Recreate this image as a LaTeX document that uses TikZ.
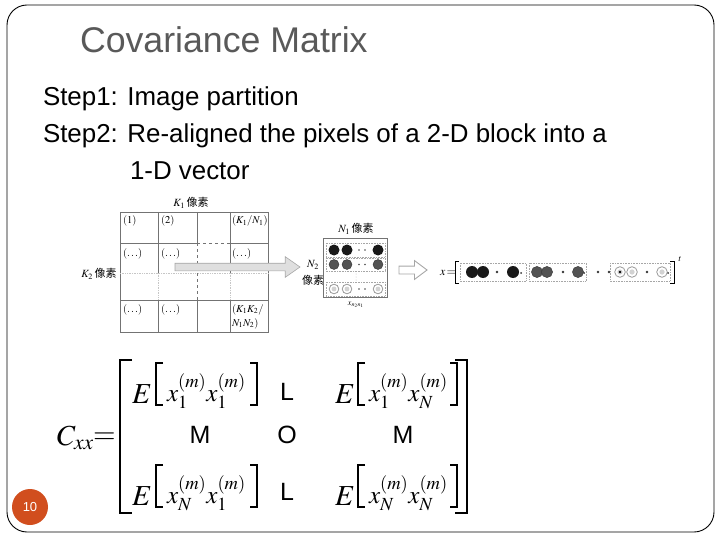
\documentclass[tikz,border=0pt]{standalone}
\usepackage{mathptmx}
\usepackage[no-math]{fontspec}
\newfontfamily\arial{Liberation Sans}
\newfontfamily\cjk{Noto Sans CJK TC}
\usetikzlibrary{shapes.arrows}
\definecolor{titlegray}{HTML}{595959}
\definecolor{numorange}{RGB}{209,78,30}
\definecolor{gridgray}{gray}{0.45}
\tikzset{
  steptext/.style={anchor=base west, font=\arial\fontsize{25.9}{30}\selectfont},
  celltext/.style={anchor=base west, font=\fontsize{10.5}{12}\selectfont},
  smalltext/.style={font=\fontsize{11}{13}\selectfont},
  mathbig/.style={anchor=base west, font=\fontsize{29}{34}\selectfont},
  mathent/.style={anchor=base west, font=\fontsize{25}{30}\selectfont},
  sym/.style={anchor=base, font=\arial\fontsize{25}{30}\selectfont},
  brk/.style={line width=1.2pt},
  bigbrk/.style={line width=1.5pt},
  gline/.style={draw=gridgray, line width=0.7pt},
  rowbox/.style={draw=gray!70, densely dotted, line width=0.6pt},
  blackdot/.style={fill=black!90},
  graydot/.style={fill=gray!65!black, draw=gray!40!black, line width=0.4pt},
  lightdot/.style={fill=white, draw=gray!80, line width=0.8pt},
  tinydot/.style={fill=gray!60!black},
}
\begin{document}
\begin{tikzpicture}[x=1pt,y=-1pt, every node/.style={inner sep=0pt, outer sep=0pt}]
\useasboundingbox (0,0) rectangle (720,540);
% slide frame
\draw[line width=0.9pt, rounded corners=20pt] (7,5) rectangle (714,532);
% title and steps
\node[anchor=base west, text=titlegray, font=\arial\fontsize{35.7}{40}\selectfont] (title) at (80,53) {Covariance Matrix};
\node[steptext] (s1) at (43,106) {Step1: Image partition};
\node[steptext] (s2) at (43,143) {Step2: Re-aligned the pixels of a 2-D block into a};
\node[steptext] (s3) at (130,180) {1-D vector};

% ---- image partition grid ----
\draw[gline] (120,212) rectangle (268,332);
\draw[gline] (120,243) -- (197,243);
\draw[gline, dashed] (197,243) -- (230,243);
\draw[gline] (230,243) -- (268,243);
\draw[draw=gray!45, densely dotted, line width=0.7pt] (120,273) -- (268,273);
\draw[gline] (120,300) -- (268,300);
\draw[gline] (158,212) -- (158,273);
\draw[draw=gray!45, densely dotted, line width=0.7pt] (158,273) -- (158,300);
\draw[gline] (158,300) -- (158,332);
\draw[gline] (197,212) -- (197,243);
\draw[gline, dashed] (197,243) -- (197,300);
\draw[gline] (197,300) -- (197,332);
\draw[gline] (230,212) -- (230,273);
\draw[draw=gray!45, densely dotted, line width=0.7pt] (230,273) -- (230,300);
\draw[gline] (230,300) -- (230,332);
\node[celltext] (c11) at (123,224) {$(1)$};
\node[celltext] (c12) at (161,224) {$(2)$};
\node[celltext] (c14) at (232,224) {$(K_1/N_1)$};
\node[celltext] (c21) at (123,256) {$(\ldots)$};
\node[celltext] (c22) at (161,256) {$(\ldots)$};
\node[celltext] (c24) at (232,256) {$(\ldots)$};
\node[celltext] (c41) at (123,312) {$(\ldots)$};
\node[celltext] (c42) at (161,312) {$(\ldots)$};
\node[celltext] (c44) at (232,312) {$(K_1K_2/$};
\node[celltext] (c44b) at (232,326) {$N_1N_2)$};
\node[smalltext] (k1) at (191,203) {$K_1$\,\cjk 像素};
\node[smalltext] (k2) at (99,274) {$K_2$\,\cjk 像素};

% hatched arrow
\node[single arrow, draw=gray!70, fill=gray!25, line width=0.6pt, anchor=tail,
      inner xsep=0pt, inner ysep=3.5pt,
      minimum height=125pt, single arrow head extend=6.5pt,
      single arrow tip angle=70, single arrow head indent=0pt] (harrow) at (175,267) {};
\node[smalltext] (n2) at (313,265) {$N_2$};
\node[smalltext] (n2px) at (313,280) {\cjk 像素};

% ---- N1 x N2 block ----
\node[smalltext] (n1) at (356,229) {$N_1$\,\cjk 像素};
\draw[gline] (323,238) rectangle (387,297);
\draw[rowbox] (326,243) rectangle (385,257);
\draw[rowbox] (326,258) rectangle (385,271);
\draw[rowbox] (326,282) rectangle (385,296);
\foreach \cx in {334,347,378} {
  \fill[blackdot] (\cx,250) circle (5.5);
  \filldraw[graydot] (\cx,264.5) circle (5);
  \filldraw[lightdot] (\cx,289) circle (4.8);
  \fill[gray!35] (\cx,289) circle (2.4);
}
\foreach \cy in {250,264.5,289} {
  \fill[tinydot] (359,\cy) circle (0.8);
  \fill[tinydot] (365,\cy) circle (0.8);
}
\foreach \cy in {274,277,280} { \fill[gray!50] (356,\cy) circle (0.5); }
\node[font=\fontsize{8}{10}\selectfont] (xn) at (356,305) {$x_{n_2n_1}$};

% hollow arrow
\node[single arrow, draw=gray!70, fill=white, line width=0.9pt, anchor=tail,
      inner xsep=0pt, inner ysep=3.5pt,
      minimum height=28pt, single arrow head extend=5.5pt,
      single arrow tip angle=74, single arrow head indent=0pt] (oarrow) at (399,270) {};

% ---- vector x ----
\node[anchor=base west, font=\fontsize{12}{14}\selectfont] (xeq) at (440,275) {$x\,{=}$};
\draw[line width=0.9pt] (459,261) -- (455,261) -- (455,283) -- (459,283);
\draw[line width=0.9pt] (670,261) -- (674,261) -- (674,283) -- (670,283);
\node[font=\fontsize{9}{11}\selectfont] (tsup) at (680,259) {$t$};
\draw[rowbox] (460,263) rectangle (526,281);
\draw[rowbox] (529,263) rectangle (586,281);
\draw[rowbox] (610,263) rectangle (670,281);
\foreach \cx in {472,483,513} { \fill[blackdot] (\cx,272) circle (6); }
\foreach \cx in {537,547,578} { \filldraw[graydot] (\cx,272) circle (5.6); }
\foreach \cx in {620,632,662} { \filldraw[lightdot] (\cx,272) circle (5.3); \fill[gray!35] (\cx,272) circle (2.6); }
\fill[black] (620,272) circle (1.3);
\foreach \cx in {497,563,598,609,647} { \fill[black!80] (\cx,272) circle (1.4); }
\foreach \cx in {521,584,668} { \fill[black!80] (\cx,273) circle (1); }

% ---- covariance matrix ----
\node[mathbig] (cxx) at (57,445) {$C_{xx}$};
\node[mathbig] (eqs) at (93,443) {$=$};
\draw[bigbrk] (132,360) -- (120,360) -- (120,513) -- (132,513);
\draw[bigbrk] (455,360) -- (467,360) -- (467,513) -- (455,513);
% row 1
\node[mathbig] (e11) at (132,403) {$E$};
\draw[brk] (163,363) -- (156,363) -- (156,405) -- (163,405);
\node[mathent] (x11) at (167,401) {$x_1^{(m)}x_1^{(m)}$};
\draw[brk] (250,363) -- (257,363) -- (257,405) -- (250,405);
\node[sym] (l1) at (287,400) {L};
\node[mathbig] (e13) at (335,403) {$E$};
\draw[brk] (365,363) -- (358,363) -- (358,405) -- (365,405);
\node[mathent] (x13) at (369,401) {$x_1^{(m)}x_N^{(m)}$};
\draw[brk] (450,363) -- (457,363) -- (457,405) -- (450,405);
% row 2
\node[sym] (m1) at (200,443) {M};
\node[sym] (o2) at (287,443) {O};
\node[sym] (m3) at (403,443) {M};
% row 3
\node[mathbig] (e31) at (132,505) {$E$};
\draw[brk] (163,465) -- (156,465) -- (156,507) -- (163,507);
\node[mathent] (x31) at (167,503) {$x_N^{(m)}x_1^{(m)}$};
\draw[brk] (250,465) -- (257,465) -- (257,507) -- (250,507);
\node[sym] (l3) at (287,500) {L};
\node[mathbig] (e33) at (335,505) {$E$};
\draw[brk] (365,465) -- (358,465) -- (358,507) -- (365,507);
\node[mathent] (x33) at (369,503) {$x_N^{(m)}x_N^{(m)}$};
\draw[brk] (450,465) -- (457,465) -- (457,507) -- (450,507);

% slide number
\node[circle, fill=numorange, minimum size=36pt, text=white, font=\arial\fontsize{13}{15}\selectfont] (num) at (30,507) {10};
\end{tikzpicture}
\end{document}
